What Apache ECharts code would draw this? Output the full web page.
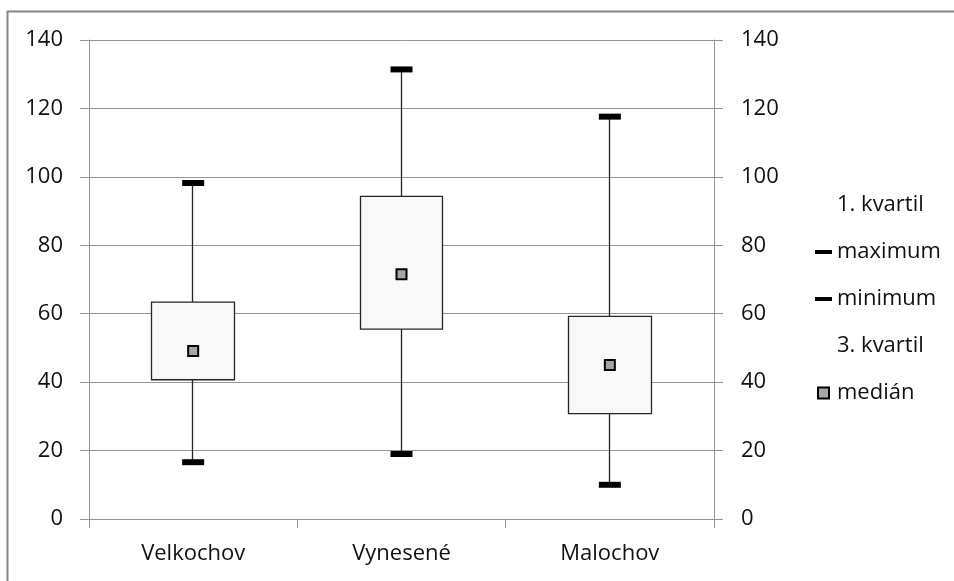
<!DOCTYPE html>
<html>
<head>
<meta charset="utf-8">
<title>Krabicový graf</title>
<script src="https://cdn.jsdelivr.net/npm/echarts@6/dist/echarts.min.js"></script>
<style>
  html, body { margin: 0; padding: 0; background: #ffffff; }
  #chart { width: 954px; height: 581px; }
</style>
</head>
<body>
<div id="chart"></div>
<script>
// Categories and five-number summaries per location
const categories = ['Velkochov', 'Vynesené', 'Malochov'];
const quartile1 = [40.7, 55.5, 30.8];
const maxima = [98.2, 131.4, 117.6];
const minima = [16.6, 19.0, 10.0];
const quartile3 = [63.4, 94.3, 59.2];
const medians = [49.1, 71.5, 45.0];
const yTicks = [0, 20, 40, 60, 80, 100, 120, 140];

const FONT = 'Open Sans';
const TEXT = '#111111';
const GRID = '#959595';

// Box (Q1..Q3) with whiskers from minimum to maximum
const boxData = categories.map((_, i) => [quartile1[i], quartile3[i], minima[i], maxima[i]]);

const yMin = yTicks[0];
const yMax = yTicks[yTicks.length - 1];
const yStep = yTicks[1] - yTicks[0];

function valueAxis(position, margin, showSplit) {
  return {
    type: 'value',
    position: position,
    min: yMin,
    max: yMax,
    interval: yStep,
    axisLine: { show: true, lineStyle: { color: GRID, width: 1 } },
    axisTick: { show: true, length: 9, lineStyle: { color: GRID } },
    axisLabel: { margin: margin, color: TEXT, fontFamily: FONT, fontSize: 22 },
    splitLine: { show: showSplit, lineStyle: { color: GRID, width: 1 } }
  };
}

const chart = echarts.init(document.getElementById('chart'), null, { renderer: 'canvas' });

chart.setOption({
  animation: false,
  backgroundColor: '#ffffff',
  graphic: [{
    type: 'rect',
    left: 5, top: 9,
    shape: { width: 1000, height: 640 },
    style: { fill: 'none', stroke: '#868686', lineWidth: 2 },
    silent: true,
    z: -10
  }],
  grid: { left: 89, right: 240, top: 40, bottom: 62 },
  legend: {
    orient: 'vertical',
    left: 810,
    top: 189,
    itemWidth: 17,
    itemHeight: 11,
    itemGap: 25,
    selectedMode: false,
    symbolKeepAspect: true,
    textStyle: { color: TEXT, fontFamily: FONT, fontSize: 22, lineHeight: 22, padding: [0, 0, 0, 0] },
    data: [
      { name: '1. kvartil', icon: 'none' },
      { name: 'maximum', icon: 'path://M0,0H17V4H0Z' },
      { name: 'minimum', icon: 'path://M0,0H17V4H0Z' },
      { name: '3. kvartil', icon: 'none' },
      { name: 'medián', icon: 'path://M0,0H11V11H0Z' }
    ]
  },
  xAxis: {
    type: 'category',
    data: categories,
    boundaryGap: true,
    axisLine: { show: true, lineStyle: { color: GRID, width: 1 } },
    axisTick: { show: true, length: 9, alignWithLabel: false, lineStyle: { color: GRID } },
    axisLabel: { margin: 24, color: TEXT, fontFamily: FONT, fontSize: 22 },
    splitLine: { show: false }
  },
  yAxis: [valueAxis('left', 26, true), valueAxis('right', 27, false)],
  series: [
    {
      name: 'box',
      type: 'candlestick',
      data: boxData,
      barWidth: '40%',
      itemStyle: {
        color: '#f8f8f8',
        color0: '#f8f8f8',
        borderColor: '#262626',
        borderColor0: '#262626',
        borderWidth: 1.3
      },
      z: 2
    },
    {
      name: '1. kvartil',
      type: 'scatter',
      symbol: 'none',
      data: quartile1
    },
    {
      name: 'maximum',
      type: 'scatter',
      symbol: 'rect',
      symbolSize: [22, 6],
      itemStyle: { color: '#000000', opacity: 1 },
      data: maxima,
      z: 4
    },
    {
      name: 'minimum',
      type: 'scatter',
      symbol: 'rect',
      symbolSize: [22, 6],
      itemStyle: { color: '#000000', opacity: 1 },
      data: minima,
      z: 4
    },
    {
      name: '3. kvartil',
      type: 'scatter',
      symbol: 'none',
      data: quartile3
    },
    {
      name: 'medián',
      type: 'scatter',
      symbol: 'rect',
      symbolSize: 10,
      itemStyle: { color: '#a6a6a6', borderColor: '#000000', borderWidth: 2, opacity: 1 },
      data: medians,
      z: 5
    }
  ]
});
</script>
</body>
</html>
